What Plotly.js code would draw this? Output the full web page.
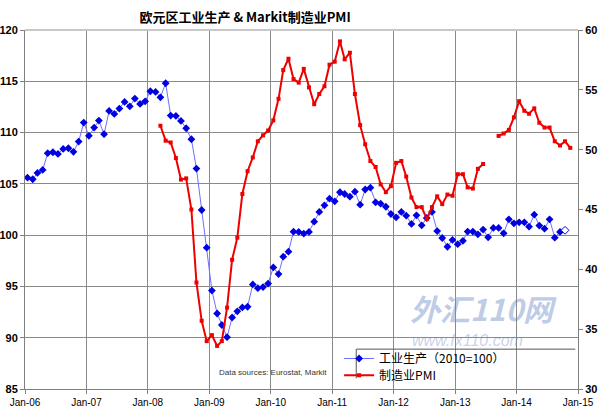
<!DOCTYPE html>
<html><head><meta charset="utf-8">
<script src="https://cdn.plot.ly/plotly-3.0.1.min.js"></script>
<style>html,body{margin:0;padding:0;background:#fff}#chart{width:608px;height:412px}</style>
</head><body><div id="chart"></div>
<script>
// Eurozone industrial production (2010=100), monthly from Jan-06 to Oct-14
var ipValues = [
  105.6,105.45,106.07,106.36,107.99,108.08,107.92,108.41,108.47,108.12,109.12,110.97,
  109.68,110.49,111.17,109.84,112.11,111.82,112.34,112.99,112.56,113.31,112.79,113.05,
  114.03,113.96,113.44,114.81,111.66,111.62,111.14,110.42,109.35,106.49,102.45,98.78,
  94.6,92.36,91.24,90.05,91.97,92.57,92.95,93.02,95.2,94.83,94.94,95.28,
  96.85,96.2,97.9,98.39,100.34,100.31,100.15,100.31,101.31,102.26,102.91,103.56,
  103.3,104.18,104.01,103.75,104.24,102.97,104.45,104.63,103.2,103.07,102.77,102.06,
  101.74,102.26,101.9,101.09,101.93,100.96,101.67,102.26,100.4,99.72,98.87,99.53,
  99.12,99.45,100.35,100.35,100.08,100.54,99.79,100.7,100.7,100.18,101.54,101.15,
  101.25,101.25,100.83,102.0,100.93,100.63,101.54,99.75,100.31,100.47
];
// Markit manufacturing PMI, monthly from Jan-06 to Nov-14 (null = no data)
var pmiValues = [
  null,null,null,null,null,null,null,null,null,null,null,null,
  null,null,null,null,null,null,null,null,null,null,null,null,
  null,null,52.0,50.75,50.6,49.3,47.5,47.6,45.0,38.9,35.7,34.0,
  34.5,33.6,34.0,36.8,40.8,42.65,46.3,48.2,49.35,50.7,51.2,51.6,
  52.45,54.25,56.65,57.6,55.9,55.6,56.75,55.2,53.8,54.65,55.3,57.1,
  57.35,59.05,57.55,58.1,54.65,52.05,50.45,49.05,48.55,47.1,46.45,46.95,
  48.9,49.05,47.75,46.0,45.2,45.2,44.2,45.2,46.1,45.45,46.25,46.15,
  47.95,47.95,46.85,46.75,48.4,48.8,null,null,51.15,51.35,51.65,52.7,
  54.05,53.25,53.0,53.45,52.25,51.85,51.85,50.7,50.35,50.7,50.15
];
var startYear = 2006;
var leftTicks = [85,90,95,100,105,110,115,120];
var rightTicks = [30,35,40,45,50,55,60];
var ipName = '工业生产（2010=100）';
var pmiName = '制造业PMI';
var chartTitle = '欧元区工业生产 &amp; Markit制造业PMI';
var sourceNote = 'Data sources: Eurostat, Markit';
var watermark1 = '外汇110网';
var watermark2 = 'www.fx110.com';

function monthDates(n) {
  var out = [];
  for (var i = 0; i < n; i++) {
    var y = startYear + Math.floor(i / 12), m = (i % 12) + 1;
    out.push(y + '-' + (m < 10 ? '0' + m : m) + '-16');
  }
  return out;
}
var ipDates = monthDates(ipValues.length);
var pmiDates = monthDates(pmiValues.length);
var lastIdx = ipValues.length - 1;
var ipColors = ipValues.map(function (v, i) { return i === lastIdx ? '#ffffff' : '#0000e0'; });
var ipLineW = ipValues.map(function (v, i) { return i === lastIdx ? 1 : 0; });

var traces = [
  {x: ipDates, y: ipValues, name: ipName, type: 'scatter', mode: 'lines+markers', legend: 'legend',
   line: {color: '#6f6fff', width: 1},
   marker: {symbol: 'diamond', size: 6, color: ipColors, line: {color: '#0000e0', width: ipLineW}}},
  {x: pmiDates, y: pmiValues, name: pmiName, type: 'scatter', mode: 'lines+markers', yaxis: 'y2', legend: 'legend2',
   connectgaps: false,
   line: {color: '#ee0000', width: 2},
   marker: {symbol: 'square', size: 4, color: '#ee0000'}}
];

var tickFontB = {family: 'Liberation Sans, Arial, sans-serif', size: 11, color: '#000', weight: 'bold'};
var legFont = {family: 'Noto Sans CJK SC, sans-serif', size: 12, color: '#000'};
var layout = {
  width: 608, height: 412,
  margin: {l: 25, r: 30, t: 30, b: 23},
  paper_bgcolor: '#fff', plot_bgcolor: '#fff',
  title: {text: '<b>' + chartTitle + '</b>', x: 0.398, xref: 'paper', y: 0.968, yref: 'container', xanchor: 'center',
          font: {family: 'Noto Sans CJK SC, sans-serif', size: 13, color: '#000'}},
  showlegend: true,
  legend: {x: 0.568, y: 0.085, xanchor: 'left', yanchor: 'middle', bgcolor: 'rgba(0,0,0,0)', borderwidth: 0, font: legFont},
  legend2: {x: 0.568, y: 0.038, xanchor: 'left', yanchor: 'middle', bgcolor: 'rgba(0,0,0,0)', borderwidth: 0, font: legFont},
  xaxis: {type: 'date', range: ['2006-01-01', '2015-01-01'], dtick: 'M12', tick0: '2006-01-01',
          tickformat: '%b-%y', showgrid: true, gridcolor: '#8a8a8a', gridwidth: 1,
          showline: true, linecolor: '#808080', ticks: 'outside', ticklen: 4, tickcolor: '#808080',
          tickfont: {family: 'Liberation Sans, Arial, sans-serif', size: 10, color: '#000'}, zeroline: false},
  yaxis: {range: [85, 120], tickvals: leftTicks, showgrid: true, gridcolor: '#8a8a8a', gridwidth: 1,
          showline: true, linecolor: '#808080', ticks: 'outside', ticklen: 4, tickcolor: '#808080',
          tickfont: tickFontB, zeroline: false},
  yaxis2: {range: [30, 60], tickvals: rightTicks, overlaying: 'y', side: 'right', showgrid: false,
           showline: true, linecolor: '#808080', ticks: 'outside', ticklen: 4, tickcolor: '#808080',
           tickfont: tickFontB, zeroline: false},
  shapes: [
    {type: 'line', xref: 'paper', yref: 'paper', x0: 0, x1: 1, y0: 1, y1: 1, line: {color: '#c8c8c8', width: 2}},
    {type: 'line', xref: 'paper', yref: 'paper', x0: 0.599, x1: 0.995, y0: 0.111, y1: 0.111, line: {color: '#555', width: 1}},
    {type: 'line', xref: 'paper', yref: 'paper', x0: 0.599, x1: 0.599, y0: 0.111, y1: 0.03, line: {color: '#555', width: 1}}
  ],
  annotations: [
    {text: sourceNote, xref: 'paper', yref: 'paper', x: 0.348, y: 0.045, xanchor: 'left', yanchor: 'middle', showarrow: false,
     font: {family: 'Liberation Sans, Arial, sans-serif', size: 8, color: '#333'}},
    {text: '<b><i>' + watermark1 + '</i></b>', xref: 'paper', yref: 'paper', x: 0.83, y: 0.225, xanchor: 'center', yanchor: 'middle', showarrow: false,
     font: {family: 'Noto Sans CJK SC, sans-serif', size: 30, color: 'rgba(110,140,200,0.45)'}},
    {text: '<i>' + watermark2 + '</i>', xref: 'paper', yref: 'paper', x: 0.8, y: 0.136, xanchor: 'center', yanchor: 'middle', showarrow: false,
     font: {family: 'Liberation Sans, Arial, sans-serif', size: 16, color: 'rgba(110,140,200,0.4)'}}
  ]
};
Plotly.newPlot('chart', traces, layout, {displayModeBar: false, staticPlot: true});
</script></body></html>
